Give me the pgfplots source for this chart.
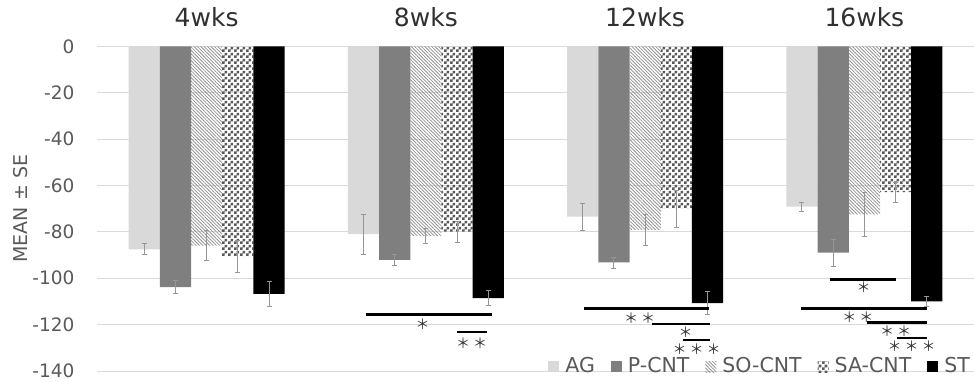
\documentclass[border=0pt]{standalone}
\usepackage{pgfplots}
\pgfplotsset{compat=1.18}
\usepackage{pgfplotstable}
\usepackage{fontspec}
\setmainfont{DejaVu Sans}
\newfontfamily\cjk{Noto Sans CJK JP}
\usetikzlibrary{patterns,patterns.meta}
\definecolor{textgray}{HTML}{595959}
\definecolor{titlegray}{HTML}{303030}
\definecolor{gridgray}{HTML}{D9D9D9}
\definecolor{agc}{HTML}{D9D9D9}
\definecolor{pc}{HTML}{7F7F7F}
\definecolor{errc}{HTML}{969696}
\pgfdeclarepatternformonly{checker3}{\pgfpointorigin}{\pgfpoint{6pt}{6pt}}{\pgfpoint{6pt}{6pt}}{%
  \pgfpathrectangle{\pgfpointorigin}{\pgfpoint{3pt}{3pt}}%
  \pgfpathrectangle{\pgfpoint{3pt}{3pt}}{\pgfpoint{3pt}{3pt}}%
  \pgfusepath{fill}}

\pgfplotstableread{
x y e
0 -87.5 2.4
1 -81.0 8.6
2 -73.4 5.8
3 -69.1 2.0
}\agdata
\pgfplotstableread{
x y e
0 -103.8 2.8
1 -92.1 2.5
2 -93.2 2.4
3 -88.9 5.8
}\pcdata
\pgfplotstableread{
x y e
0 -85.9 6.5
1 -81.7 3.4
2 -79.1 6.7
3 -72.4 9.5
}\sodata
\pgfplotstableread{
x y e
0 -90.6 6.8
1 -79.9 4.6
2 -70.1 8.0
3 -62.9 4.3
}\sadata
\pgfplotstableread{
x y e
0 -106.7 5.4
1 -108.6 3.3
2 -110.7 5.0
3 -110.0 2.0
}\stdata

\pgfplotsset{
  errs/.style={error bars/.cd, y dir=both, y explicit,
    error bar style={errc, line width=0.8pt},
    error mark options={errc, line width=0.8pt, mark size=2.6pt, rotate=90}},
  sig/.style={sharp plot, forget plot, black, line width=2.8pt, no marks},
}
\newcommand{\st}[3]{\node[font=\cjk\fontsize{14}{14}\selectfont, text=titlegray, inner sep=0pt] at (axis cs:#1,#2) {#3};}
\newcommand{\ttl}[2]{\node[font=\fontsize{25}{25}\selectfont, text=titlegray] at (axis cs:#1,12.4) {#2};}
\newcommand{\stsp}{\hspace{3pt}}

\begin{document}
\begin{tikzpicture}
\begin{axis}[
  scale only axis, width=877pt, height=324.6pt,
  ymin=-140, ymax=0, xmin=-0.5, xmax=3.5,
  clip=false,
  ybar=0pt, bar width=0.1425,
  axis line style={draw=none},
  xtick=\empty,
  ytick={-140,-120,-100,-80,-60,-40,-20,0},
  yticklabels={-140,-120,-100,-80,-60,-40,-20,0},
  major tick length=0pt,
  yticklabel style={font=\fontsize{18.5}{18.5}\selectfont, text=textgray, xshift=-19pt},
  ymajorgrids, grid style={gridgray, line width=0.9pt},
  ylabel={MEAN ± SE},
  every axis y label/.style={at={([xshift=-76pt]rel axis cs:0,0.5)}, rotate=90, anchor=center,
    font=\fontsize{19}{19}\selectfont, text=textgray},
  legend columns=-1,
  legend style={draw=none, fill=none, at={(rel axis cs:1.0,0.015)}, anchor=east,
    font=\fontsize{20.5}{20.5}\selectfont, text=textgray,
    nodes={inner sep=1pt},
    /tikz/every odd column/.append style={column sep=5pt},
    /tikz/every even column/.append style={column sep=15pt}},
  legend image code/.code={\path[#1, draw=none] (0pt,-6pt) rectangle (11pt,5pt);},
]
\addplot[fill=agc, draw=none, errs] table[x=x, y=y, y error=e] {\agdata};
\addlegendentry{AG}
\addplot[fill=pc, draw=none, errs] table[x=x, y=y, y error=e] {\pcdata};
\addlegendentry{P-CNT}
\addplot[draw=none, pattern={Lines[angle=135,distance=2.4pt,line width=0.8pt]}, pattern color=gray!85, errs] table[x=x, y=y, y error=e] {\sodata};
\addlegendentry{SO-CNT}
\addplot[draw=none, pattern=checker3, pattern color=textgray, errs] table[x=x, y=y, y error=e] {\sadata};
\addlegendentry{SA-CNT}
\addplot[fill=black, draw=none, errs] table[x=x, y=y, y error=e] {\stdata};
\addlegendentry{ST}

% significance lines
\addplot[sig] coordinates {(0.725,-115.8) (1.300,-115.8)};
\addplot[sig] coordinates {(1.141,-123.2) (1.277,-123.2)};
\addplot[sig] coordinates {(1.720,-113.2) (2.290,-113.2)};
\addplot[sig] coordinates {(2.030,-119.7) (2.295,-119.7)};
\addplot[sig] coordinates {(2.172,-126.6) (2.295,-126.6)};
\addplot[sig] coordinates {(2.842,-100.4) (3.143,-100.4)};
\addplot[sig] coordinates {(2.710,-113.2) (3.285,-113.2)};
\addplot[sig] coordinates {(3.011,-119.1) (3.285,-119.1)};
\addplot[sig] coordinates {(3.148,-125.8) (3.285,-125.8)};

\st{0.985}{-119.6}{＊}
\st{1.209}{-128.0}{＊\stsp＊}
\st{1.975}{-117.1}{＊\stsp＊}
\st{2.185}{-123.3}{＊}
\st{2.235}{-130.6}{＊\stsp＊\stsp＊}
\st{2.997}{-104.0}{＊}
\st{2.970}{-116.7}{＊\stsp＊}
\st{3.143}{-122.9}{＊\stsp＊}
\st{3.216}{-129.2}{＊\stsp＊\stsp＊}

\ttl{0}{4wks}
\ttl{1}{8wks}
\ttl{2}{12wks}
\ttl{3}{16wks}

\coordinate (pSW) at (rel axis cs:0,0);
\coordinate (pNE) at (rel axis cs:1,1);
\end{axis}
\pgfresetboundingbox
\path ([shift={(-97pt,-11pt)}]pSW) rectangle ([shift={(0pt,46.4pt)}]pNE);
\end{tikzpicture}
\end{document}
